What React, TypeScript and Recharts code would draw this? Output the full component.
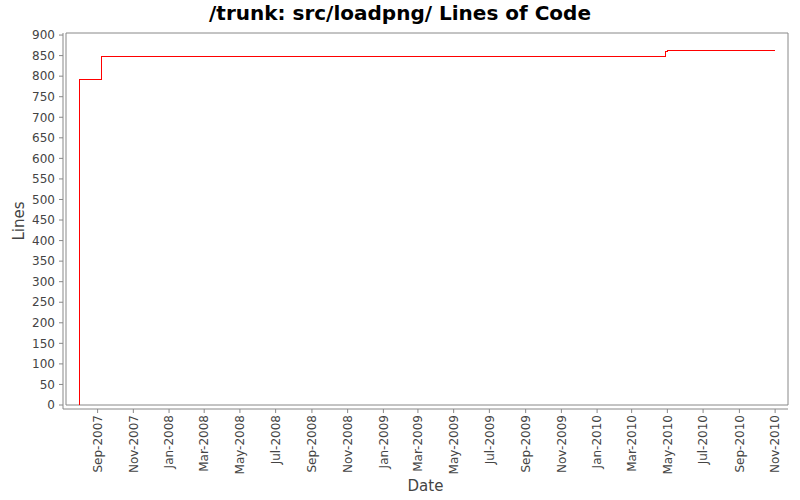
import { Line, LineChart, ReferenceArea, XAxis, YAxis } from "recharts";

const FONT = "'DejaVu Sans', sans-serif";
const MONTHS = ["Jan", "Feb", "Mar", "Apr", "May", "Jun", "Jul", "Aug", "Sep", "Oct", "Nov", "Dec"];

// commit dates and line counts (step series)
const dates = ["2007-08-01", "2007-08-01", "2007-09-07", "2010-04-28", "2010-05-02", "2010-10-31"];
const lines = [0, 792, 848, 859, 862, 862];

const xTickDates = [
  "2007-09-01", "2007-11-01", "2008-01-01", "2008-03-01", "2008-05-01", "2008-07-01",
  "2008-09-01", "2008-11-01", "2009-01-01", "2009-03-01", "2009-05-01", "2009-07-01",
  "2009-09-01", "2009-11-01", "2010-01-01", "2010-03-01", "2010-05-01", "2010-07-01",
  "2010-09-01", "2010-11-01",
];
const yTicks = [0, 50, 100, 150, 200, 250, 300, 350, 400, 450, 500, 550, 600, 650, 700, 750, 800, 850, 900];

const xDomain = ["2007-07-09", "2010-11-23"];
const yMax = 905;

const ts = (d: string) => Date.parse(d + "T00:00:00Z");
const data = dates.map((d, i) => ({ t: ts(d), lines: lines[i] }));
const xMin = ts(xDomain[0]);
const xMax = ts(xDomain[1]);

const fmtDate = (v: number) => {
  const d = new Date(v);
  return `${MONTHS[d.getUTCMonth()]}-${d.getUTCFullYear()}`;
};

function XTick({ x, y, payload }: any) {
  return (
    <text
      x={x}
      y={y}
      dy="0.35em"
      transform={`rotate(-90 ${x} ${y})`}
      textAnchor="end"
      fill="#444"
      fontSize={12}
      fontFamily={FONT}
    >
      {fmtDate(payload.value)}
    </text>
  );
}

export default function App() {
  return (
    <div style={{ position: "absolute", left: 0, top: 0, width: 800, height: 500, background: "#fff" }}>
      <div
        style={{
          position: "absolute",
          left: 0,
          top: 1,
          width: 800,
          textAlign: "center",
          fontFamily: FONT,
          fontWeight: "bold",
          fontSize: 20,
          color: "#000",
        }}
      >
        /trunk: src/loadpng/ Lines of Code
      </div>
      <LineChart width={800} height={500} data={data} margin={{ top: 33, right: 12, bottom: 0, left: 0 }}>
        <ReferenceArea x1={xMin} x2={xMax} y1={0} y2={yMax} fill="none" stroke="#888" strokeWidth={1} />
        <XAxis
          dataKey="t"
          type="number"
          scale="time"
          domain={[xMin, xMax]}
          ticks={xTickDates.map(ts)}
          tick={<XTick />}
          interval={0}
          height={91}
          padding={{ left: 3, right: 0 }}
          stroke="#888"
          tickSize={4}
          tickMargin={2}
          allowDataOverflow
          label={{ value: "Date", position: "insideBottom", offset: 9, fill: "#444", fontSize: 15, fontFamily: FONT }}
        />
        <YAxis
          type="number"
          domain={[0, yMax]}
          ticks={yTicks}
          interval={0}
          width={63}
          padding={{ top: 0, bottom: 4 }}
          stroke="#888"
          tickSize={4}
          tickMargin={4}
          tick={{ fill: "#444", fontSize: 12, fontFamily: FONT }}
          allowDataOverflow
          label={{
            value: "Lines",
            angle: -90,
            position: "insideLeft",
            offset: 19,
            fill: "#444",
            fontSize: 15,
            fontFamily: FONT,
            style: { textAnchor: "middle" },
          }}
        />
        <Line
          dataKey="lines"
          type="stepAfter"
          stroke="#ff0000"
          strokeWidth={1}
          shapeRendering="crispEdges"
          dot={false}
          activeDot={false}
          isAnimationActive={false}
        />
      </LineChart>
    </div>
  );
}
